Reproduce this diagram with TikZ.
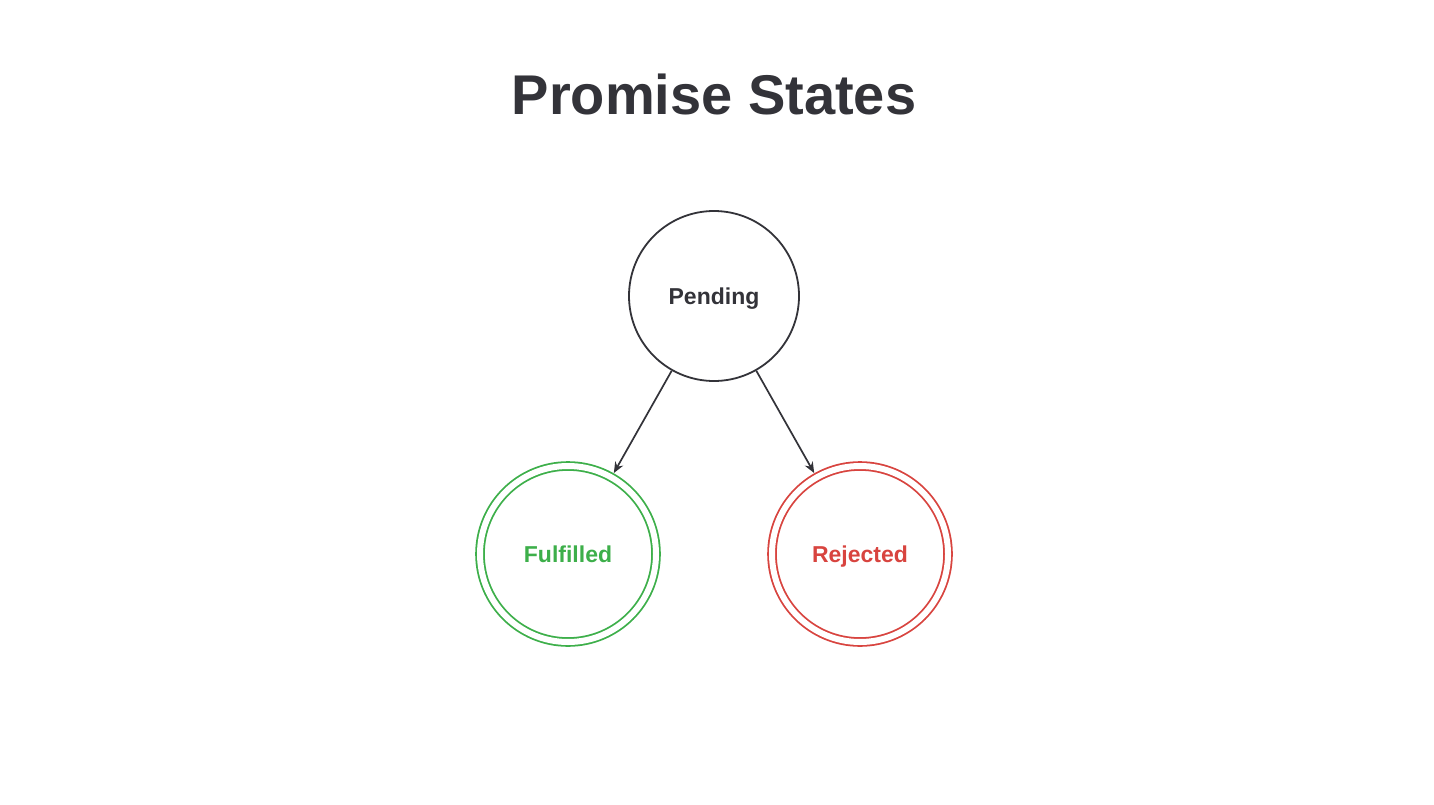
\documentclass[tikz,border=0pt]{standalone}
\usepackage{fontspec}
\setmainfont{Liberation Sans}
\usetikzlibrary{arrows.meta}
\definecolor{ink}{HTML}{333339}
\definecolor{okgreen}{HTML}{3DAF4A}
\definecolor{badred}{HTML}{D8443F}
\tikzset{
  labelfont/.style={font=\fontsize{23}{27}\selectfont\bfseries, text height=16.5pt, text depth=0pt},
  statecirc/.style={circle, draw=ink, line width=1.8pt, minimum size=170pt, inner sep=0pt,
    labelfont, text=ink},
  finalcirc/.style={circle, line width=1.8pt, double=white, double distance=6pt,
    minimum size=176pt, inner sep=0pt, outer sep=5pt, labelfont},
  trans/.style={draw=ink, line width=1.7pt, -{Stealth[length=11pt,width=9pt]}},
}
\begin{document}
\begin{tikzpicture}[x=1pt,y=-1pt]
\useasboundingbox[fill=white] (0,0) rectangle (1434,805);
\node[font=\fontsize{56}{64}\selectfont\bfseries, text=ink] (title) at (714,94) {Promise States};
\node[statecirc] (pending) at (714,296) {Pending};
\node[finalcirc, draw=okgreen, text=okgreen] (fulfilled) at (568,554) {Fulfilled};
\node[finalcirc, draw=badred, text=badred] (rejected) at (860,554) {Rejected};
\draw[trans] (pending) -- (fulfilled);
\draw[trans] (pending) -- (rejected);
\end{tikzpicture}
\end{document}
